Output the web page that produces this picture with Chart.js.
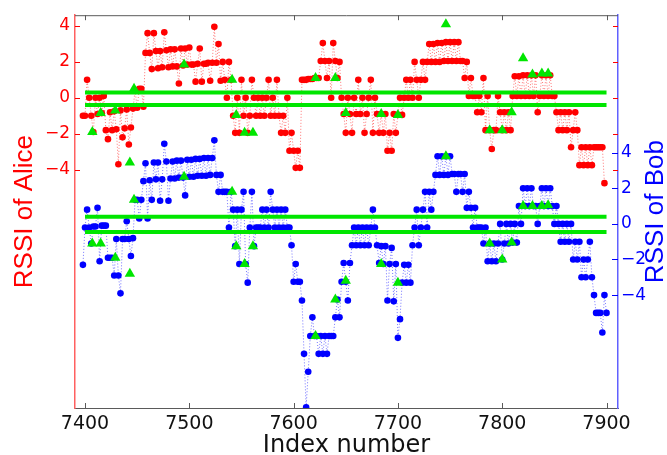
<!DOCTYPE html>
<html>
<head>
<meta charset="utf-8">
<script src="https://cdn.jsdelivr.net/npm/chart.js@4/dist/chart.umd.min.js"></script>
<style>
  html, body { margin: 0; padding: 0; background: #fff; }
  #rssiChart { display: block; }
</style>
</head>
<body>
<canvas id="rssiChart" width="667" height="455"></canvas>
<script>
// Index numbers: first sample and step between the plotted samples
const indexStart = 7398;
const indexStep = 2;

// RSSI of Alice (left axis), one value per plotted index
const aliceRssi = [
  -1, -1, 1, 0, -1, -1.9, 0, -0.9, 0, -0.85,
  0.1, -1.8, -2.3, -0.8, -1.8, -0.75, -1.75, -3.7, -0.7, -2.2,
  -1.7, -0.65, -2.6, -1.65, -0.6, 0.4, -0.55, 0.5, 0.5, -0.5,
  2.5, 3.6, 2.5, 1.6, 3.6, 2.6, 1.65, 2.6, 1.7, 3.65,
  2.65, 1.7, 2.7, 1.75, 2.7, 1.75, 0.8, 2.75, 1.8, 2.75,
  1.85, 2.8, 1.85, 1.85, 0.9, 1.9, 2.75, 0.9, 1.9, 1.9,
  1.95, 0.95, 1.95, 3.95, 1.95, 3.0, 0.95, 2.0, 1.0, 0,
  2.0, 1.0, -1.0, -1.95, 0, -1.95, 1.0, -1.0, 0, -1.95,
  -1, 1.0, 0, -1, 0, -1, 0, -1, 0, 1.0,
  -1, 0, -1, 1.0, -1, -1.95, -1, -1.95, 0, -2.95,
  -1.95, -2.95, -3.9, -2.95, -3.9, 1.0, 1.0, 1.0, 1.05, 1.05,
  1.05, 1.1, 1.1, 1.1, 2.05, 3.05, 2.05, 1.1, 2.05, 0,
  3.05, 2.05, 1.1, 2.0, 0, -0.9, -1.95, 0, -0.9, -1.95,
  0, -0.9, 1.0, -0.9, 0, -1.95, -0.9, 0, 1.0, -1.95,
  0, -0.9, -1.95, -0.9, -1.95, -0.9, -2.95, -1.95, -2.95, -0.9,
  -1.95, -0.95, 0, -0.95, 0, 1.0, 0, 1.0, 0, 2.0,
  1.0, 0, 1.0, 2.0, 1.0, 2.0, 3.0, 2.0, 3.0, 2.0,
  3.05, 2.0, 3.05, 2.05, 3.1, 2.05, 3.1, 2.05, 3.1, 2.05,
  3.1, 2.05, 2.05, 1.1, 2.0, 0.1, 1.1, 0.1, 0.1, -0.8,
  0.1, -0.8, 1.1, -1.8, 0.1, -1.8, -2.85, -1.8, -1.8, 0.1,
  -0.8, -1.8, -0.8, -1.8, -0.8, -1.8, 0.1, 1.2, 0.1, 1.2,
  0.1, 1.25, 0.1, 1.25, 0.1, 1.25, 0.1, 1.25, -0.8, 0.1,
  1.25, 0.1, 1.25, 0.1, 1.25, 0.1, 0.1, -0.8, -1.8, -0.8,
  -1.8, -0.8, -1.8, -0.8, -2.75, -1.8, -0.8, -1.8, -3.75, -2.75,
  -3.75, -2.75, -3.75, -2.75, -3.75, -2.75, -2.75, -2.75, -2.75, -2.75,
  -4.75
];

// RSSI of Bob (right axis), one value per plotted index
const bobRssi = [
  -2.3, -0.2, 0.8, -0.2, -1.1, -0.15, -0.15, 0.9, -2.1, -0.1,
  -0.1, -0.1, -1.9, -1.9, -1.9, -2.9, -0.85, -2.9, -3.9, -0.85,
  -0.85, 0.15, -0.85, -1.8, -0.8, 1.35, 1.35, 0.3, 1.35, 2.4,
  3.4, 0.3, 2.45, 1.35, 3.45, 2.5, 3.45, 1.3, 2.5, 4.5,
  3.5, 1.3, 2.55, 3.5, 2.55, 3.55, 2.6, 3.55, 2.6, 1.6,
  3.6, 2.65, 3.6, 2.65, 3.65, 2.7, 3.65, 2.7, 3.7, 2.7,
  3.7, 2.75, 3.7, 4.7, 2.75, 1.8, 2.75, 1.8, 1.8, 1.8,
  -0.2, 1.8, 0.8, -1.25, 0.8, -2.25, 0.8, 1.8, -2.25, -3.3,
  -0.2, 1.8, -1.25, -0.2, -0.2, -0.2, 0.8, -0.2, 0.8, -0.2,
  1.8, 0.8, -0.2, 0.8, -0.2, 0.8, -0.2, 0.8, -0.2, -0.2,
  -1.2, -3.25, -2.25, -3.25, -3.25, -4.3, -7.3, -10.3, -8.3, -6.3,
  -5.25, -6.3, -6.3, -7.3, -6.3, -7.3, -6.3, -7.3, -6.3, -6.3,
  -6.3, -5.25, -4.25, -5.25, -3.25, -2.2, -3.25, -4.3, -2.2, -1.2,
  -0.2, -1.2, -0.2, -1.2, -0.2, -1.2, -0.2, -1.2, -0.2, 0.8,
  -0.2, -1.2, -2.2, -1.25, -2.25, -1.25, -4.3, -2.25, -1.35, -4.35,
  -2.25, -6.4, -5.35, -3.3, -2.3, -3.3, -2.3, -3.3, -1.2, -0.2,
  0.8, -1.2, -0.2, 0.8, 1.8, -0.2, 1.8, 0.8, 1.8, 2.75,
  3.8, 2.75, 3.8, 2.75, 3.8, 2.75, 3.8, 2.8, 2.8, 1.8,
  2.8, 2.8, 1.8, 2.8, 0.9, 1.8, 0.9, -0.2, 0.9, -0.2,
  -0.2, -0.2, -1.1, -0.2, -2.1, -1.1, -2.1, -1.1, -2.1, -1.1,
  0, -2.0, -1.1, 0, -1.1, 0, -1.05, 0, -1.05, 1.0,
  0, 2.0, 1.0, 2.0, 1.0, 2.0, 1.0, 1.0, 0, 1.0,
  2.0, 1.0, 2.0, 1.0, 2.0, 1.0, 0, 1.0, 0, -1,
  0, -1, 0, -1, 0, -2, -1, -2, -1, -3,
  -2, -3, -2, -1, -3, -4, -5, -5, -5, -6.1,
  -4, -5
];

// Marked samples (green triangles)
const markIndex = [7407, 7415, 7429, 7443, 7447, 7495, 7541, 7545, 7553, 7561, 7621, 7640,
                   7650, 7684, 7700, 7746, 7788, 7800, 7809, 7820, 7829, 7838, 7844];
const aliceMarks = [-1.9, -0.85, -0.7, -3.6, 0.5, 1.86, 1.0, -0.95, -1.95, -1.95, 1.1, 1.1,
                    -0.85, -0.9, -0.95, 4.1, -1.8, -1.8, -0.8, 2.2, 1.3, 1.35, 1.35];
const bobMarks = [-1.1, -1.1, -1.9, -2.8, 1.35, 2.65, 1.8, -1.25, -2.25, -1.25, -6.3, -4.25,
                  -3.2, -2.25, -3.3, 3.8, -1.1, -2.0, -1.05, 1.0, 1.0, 1.0, 1.05];

// Quantization thresholds (green lines), drawn from 7400 to 7900
const thresholdSpan = [7400, 7900];
const aliceThresholds = [0.3, -0.4];
const bobThresholds = [0.4, -0.45];

// Tick labels
const xTicks = [7400, 7500, 7600, 7700, 7800, 7900];
const aliceTicks = [-4, -2, 0, 2, 4];
const bobTicks = [-4, -2, 0, 2, 4];

const RED = '#ff0000';
const BLUE = '#0000ff';
const GREEN = '#00e600';

function toPoints(values) {
    return values.map((v, i) => ({ x: indexStart + i * indexStep, y: v }));
}

function markPoints(values) {
    return values.map((v, i) => ({ x: markIndex[i], y: v }));
}

function thresholdLine(level, axis) {
    return {
        type: 'line',
        yAxisID: axis,
        data: thresholdSpan.map(x => ({ x: x, y: level })),
        borderColor: GREEN,
        borderWidth: 4,
        pointRadius: 0,
        order: 1
    };
}

function tickText(v) {
    return v < 0 ? '\u2212' + Math.abs(v) : String(v);
}

// Frame: top line, inward tick marks and the right-hand title
const framePlugin = {
    id: 'frame',
    afterDraw(chart) {
        const ctx = chart.ctx;
        const area = chart.chartArea;
        const x = chart.scales.x, y = chart.scales.y, y2 = chart.scales.y2;
        ctx.save();
        ctx.lineWidth = 1;
        ctx.strokeStyle = '#5a5a5a';
        ctx.beginPath();
        ctx.moveTo(area.left, area.top + 0.5);
        ctx.lineTo(area.right, area.top + 0.5);
        xTicks.forEach(v => {
            const px = Math.round(x.getPixelForValue(v)) + 0.5;
            ctx.moveTo(px, area.bottom);
            ctx.lineTo(px, area.bottom - 5);
            ctx.moveTo(px, area.top);
            ctx.lineTo(px, area.top + 5);
        });
        ctx.stroke();

        ctx.strokeStyle = RED;
        ctx.beginPath();
        aliceTicks.forEach(v => {
            const py = Math.round(y.getPixelForValue(v)) + 0.5;
            ctx.moveTo(area.left, py);
            ctx.lineTo(area.left + 5, py);
            ctx.moveTo(area.right, py);
            ctx.lineTo(area.right - 5, py);
        });
        ctx.stroke();

        ctx.strokeStyle = BLUE;
        ctx.beginPath();
        bobTicks.forEach(v => {
            const py = Math.round(y2.getPixelForValue(v)) + 0.5;
            ctx.moveTo(area.right, py);
            ctx.lineTo(area.right - 6, py);
        });
        ctx.stroke();

        // MATLAB writes the right label bottom-to-top too
        ctx.translate(656, (area.top + area.bottom) / 2);
        ctx.rotate(-Math.PI / 2);
        ctx.fillStyle = BLUE;
        ctx.font = '26px "Liberation Sans", Arial, sans-serif';
        ctx.textAlign = 'center';
        ctx.textBaseline = 'middle';
        ctx.fillText('RSSI of Bob', 0, 0);
        ctx.restore();
    }
};

const ctx = document.getElementById('rssiChart').getContext('2d');
new Chart(ctx, {
    data: {
        datasets: [
            {
                type: 'scatter',
                yAxisID: 'y',
                data: markPoints(aliceMarks),
                pointStyle: 'triangle',
                pointRadius: 6,
                pointBackgroundColor: GREEN,
                pointBorderWidth: 0,
                order: 0
            },
            {
                type: 'scatter',
                yAxisID: 'y2',
                data: markPoints(bobMarks),
                pointStyle: 'triangle',
                pointRadius: 6,
                pointBackgroundColor: GREEN,
                pointBorderWidth: 0,
                order: 0
            },
            thresholdLine(aliceThresholds[0], 'y'),
            thresholdLine(aliceThresholds[1], 'y'),
            thresholdLine(bobThresholds[0], 'y2'),
            thresholdLine(bobThresholds[1], 'y2'),
            {
                type: 'line',
                yAxisID: 'y',
                data: toPoints(aliceRssi),
                borderColor: 'rgba(255, 0, 0, 0.55)',
                borderWidth: 1,
                borderDash: [1, 2],
                pointRadius: 3.3,
                pointBackgroundColor: RED,
                pointBorderWidth: 0,
                order: 2
            },
            {
                type: 'line',
                yAxisID: 'y2',
                data: toPoints(bobRssi),
                borderColor: 'rgba(0, 0, 255, 0.55)',
                borderWidth: 1,
                borderDash: [1, 2],
                pointRadius: 3.3,
                pointBackgroundColor: BLUE,
                pointBorderWidth: 0,
                order: 2
            }
        ]
    },
    options: {
        responsive: false,
        animation: false,
        layout: { padding: { top: 14, left: 0, right: 0, bottom: 0 } },
        plugins: {
            legend: { display: false },
            tooltip: { enabled: false }
        },
        scales: {
            x: {
                type: 'linear',
                min: 7390.4,
                max: 7911,
                afterBuildTicks: function (scale) {
                    scale.ticks = xTicks.map(v => ({ value: v }));
                },
                afterFit: function (scale) { scale.height = 47; },
                grid: { display: false, drawTicks: false },
                border: { color: '#5a5a5a', width: 1 },
                ticks: {
                    color: '#111',
                    font: { family: 'DejaVu Sans', size: 19 },
                    padding: 5,
                    maxRotation: 0,
                    autoSkip: false,
                    callback: function (value) { return String(value); }
                },
                title: {
                    display: true,
                    text: 'Index number',
                    color: '#111',
                    font: { family: 'DejaVu Sans', size: 24, lineHeight: 0.8 },
                    padding: 0
                }
            },
            y: {
                position: 'left',
                min: -17.27,
                max: 4.6,
                afterBuildTicks: function (scale) {
                    scale.ticks = aliceTicks.map(v => ({ value: v }));
                },
                afterFit: function (scale) { scale.width = 75; },
                grid: { display: false, drawTicks: false },
                border: { color: '#ff6060', width: 1.5 },
                ticks: {
                    color: RED,
                    font: { family: 'DejaVu Sans', size: 17 },
                    padding: 5,
                    callback: tickText
                },
                title: {
                    display: true,
                    text: 'RSSI of Alice',
                    color: RED,
                    font: { family: 'Liberation Sans', size: 26 },
                    padding: { top: 9.4, bottom: 0 }
                }
            },
            y2: {
                position: 'right',
                min: -10.34,
                max: 11.72,
                afterBuildTicks: function (scale) {
                    scale.ticks = bobTicks.map(v => ({ value: v }));
                },
                afterFit: function (scale) { scale.width = 49; },
                grid: { display: false, drawTicks: false },
                border: { color: '#6060ff', width: 1.5 },
                ticks: {
                    color: BLUE,
                    font: { family: 'DejaVu Sans', size: 17 },
                    padding: 3,
                    callback: tickText
                }
            }
        }
    },
    plugins: [framePlugin]
});
</script>
</body>
</html>
